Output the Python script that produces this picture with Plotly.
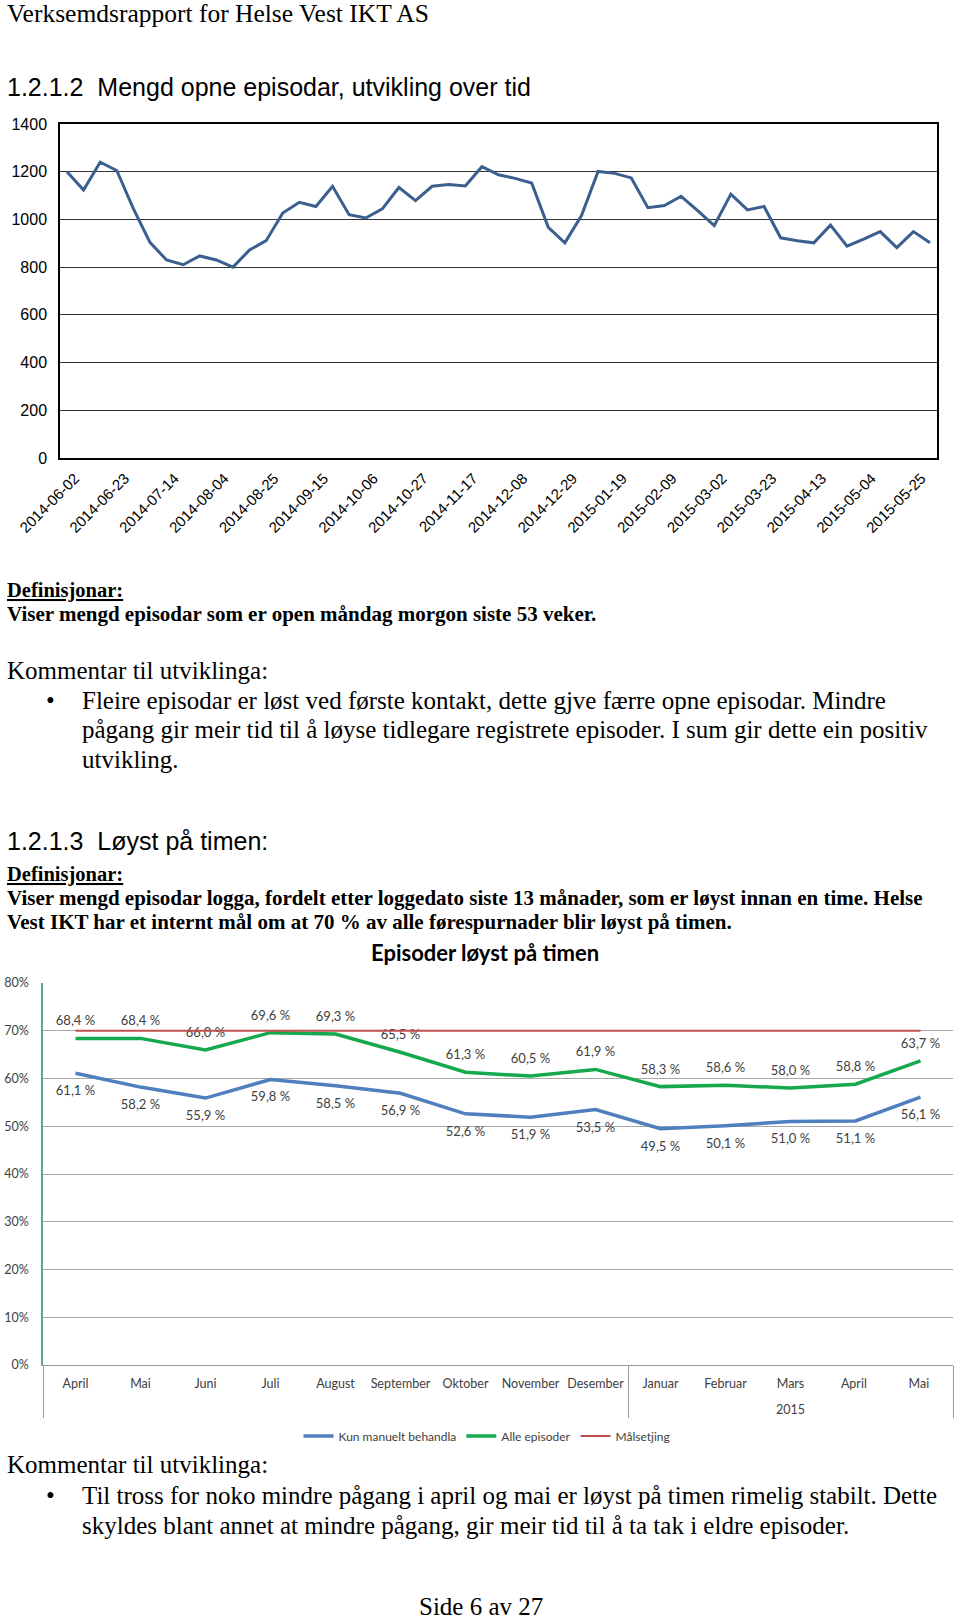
import plotly.graph_objects as go
import pandas as pd

W, H = 960, 1619

# ---------- Chart 1: open episodes per week ----------
weeks = [d.strftime('%Y-%m-%d') for d in pd.date_range('2014-06-02', periods=53, freq='7D')]
open_episodes = [1200, 1123, 1240, 1205, 1045, 904, 830, 810, 847, 830,
                 800, 872, 911, 1027, 1072, 1054, 1139, 1020, 1006, 1044,
                 1134, 1079, 1139, 1146, 1140, 1221, 1187, 1172, 1153, 967,
                 902, 1016, 1201, 1193, 1174, 1049, 1058, 1097, 1037, 974,
                 1106, 1040, 1054, 923, 911, 902, 976, 888, 917, 949,
                 882, 949, 902]
week_ticks = weeks[::3]
y1_ticks = [0, 200, 400, 600, 800, 1000, 1200, 1400]

# ---------- Chart 2: solved within the hour ----------
# leading <br> drops the year label onto its own row, as in the source
years = ["", "", "", "", "", "", "", "", "",
         "<br>2015", "<br>2015", "<br>2015", "<br>2015", "<br>2015"]
# trailing space keeps the 2015 April/Mai distinct from the 2014 ones
months = ["April", "Mai", "Juni", "Juli", "August", "September", "Oktober",
          "November", "Desember", "Januar", "Februar", "Mars", "April ", "Mai "]
manual = [61.1, 58.2, 55.9, 59.8, 58.5, 56.9, 52.6, 51.9, 53.5, 49.5, 50.1, 51.0, 51.1, 56.1]
alle = [68.4, 68.4, 66.0, 69.6, 69.3, 65.5, 61.3, 60.5, 61.9, 58.3, 58.6, 58.0, 58.8, 63.7]
target = [70, 70, 70, 70, 70, 70, 70, 70, 70, 70, 70, 70, 70, 70]
y2_ticks = [0, 10, 20, 30, 40, 50, 60, 70, 80]
y2_labels = ["0%", "10%", "20%", "30%", "40%", "50%", "60%", "70%", "80%"]


def fmt(v):
    return f"{v:.1f} %".replace('.', ',')


def py(y):
    return 1 - y / H


def px(x):
    return x / W


fig = go.Figure()

fig.add_trace(go.Scatter(
    x=weeks, y=open_episodes, mode='lines', xaxis='x', yaxis='y',
    line=dict(color='#3b5f8e', width=3), showlegend=False, hoverinfo='skip'))

xcat = [years, months]
label_font = dict(family='Lato', size=13, color='#404040')
fig.add_trace(go.Scatter(
    x=xcat, y=manual, mode='lines+markers+text', xaxis='x2', yaxis='y2',
    name='Kun manuelt behandla', text=[fmt(v) for v in manual],
    textposition='bottom center', textfont=label_font,
    marker=dict(size=18, color='rgba(0,0,0,0)'),
    line=dict(color='#4f7fbe', width=3.5)))
fig.add_trace(go.Scatter(
    x=xcat, y=alle, mode='lines+markers+text', xaxis='x2', yaxis='y2',
    name='Alle episoder', text=[fmt(v) for v in alle],
    textposition='top center', textfont=label_font,
    marker=dict(size=14, color='rgba(0,0,0,0)'),
    line=dict(color='#16a84c', width=3.5)))
fig.add_trace(go.Scatter(
    x=xcat, y=target, mode='lines', xaxis='x2', yaxis='y2',
    name='Målsetjing', line=dict(color='#c0504d', width=1.8)))

fig.update_layout(
    width=W, height=H, margin=dict(l=0, r=0, t=0, b=0, autoexpand=False),
    paper_bgcolor='white', plot_bgcolor='white',
    xaxis=dict(domain=[px(60), px(937)], anchor='y', type='category',
               range=[-0.42, 52.42], tickmode='array', tickvals=week_ticks,
               ticktext=week_ticks, tickangle=-45, ticks='', automargin=False,
               ticklabelshift=8, ticklabelstandoff=4,
               tickfont=dict(family='Liberation Sans', size=15, color='black'),
               showline=True, linecolor='black', linewidth=1.5, mirror=True,
               showgrid=False, zeroline=False),
    yaxis=dict(domain=[py(458), py(124)], anchor='x', range=[0, 1400],
               tickmode='array', tickvals=y1_ticks, ticks='', automargin=False,
               tickfont=dict(family='Liberation Sans', size=16, color='black'),
               showline=True, linecolor='black', linewidth=1.5, mirror=True,
               showgrid=True, gridcolor='#333333', gridwidth=1,
               zeroline=False, ticklabelstandoff=8),
    xaxis2=dict(domain=[px(43), px(953)], anchor='y2', type='multicategory',
                range=[-0.5, 13.5], ticks='', tickangle=0, automargin=False,
                ticklabelstandoff=7,
                tickfont=dict(family='Lato', size=12.5, color='#404040'),
                showline=True, linecolor='#9a9a9a', showgrid=False,
                showdividers=True, dividercolor='#9a9a9a', dividerwidth=1,
                zeroline=False),
    yaxis2=dict(domain=[py(1365), py(983)], anchor='x2', range=[0, 80],
                tickmode='array', tickvals=y2_ticks, ticktext=y2_labels,
                ticks='', automargin=False,
                tickfont=dict(family='Lato', size=12.5, color='#404040'),
                showline=True, linecolor='#62a592', linewidth=1.5,
                showgrid=True, gridcolor='#a8a8a8', gridwidth=1,
                zeroline=False, ticklabelstandoff=10),
    legend=dict(orientation='h', x=px(487), xanchor='center', y=py(1436),
                yanchor='middle', font=dict(family='Lato', size=12, color='#404040'),
                bgcolor='rgba(0,0,0,0)', itemwidth=30, tracegroupgap=0),
)

anns = []


def ann(text, x, y, size, family='Liberation Serif', bold=False,
        xanchor='left', color='black', underline=False):
    f = dict(family=family, size=size, color=color)
    if bold:
        f['weight'] = 'bold'
    if underline:
        f['lineposition'] = 'under'
    anns.append(dict(text=text, x=px(x), y=py(y), xref='paper', yref='paper',
                     xanchor=xanchor, yanchor='middle', showarrow=False,
                     font=f))


BODY = 25
BOLD = 21
ann('Verksemdsrapport for Helse Vest IKT AS', 5, 13, 25.5)
ann('1.2.1.2  Mengd opne episodar, utvikling over tid', 5, 87, 25, family='Liberation Sans')
ann('Definisjonar:', 5, 590, 20.5, bold=True, underline=True)
ann('Viser mengd episodar som er open måndag morgon siste 53 veker.', 5, 614, BOLD, bold=True)
ann('Kommentar til utviklinga:', 5, 670, BODY)
ann('•', 44, 700, BODY)
ann('Fleire episodar er løst ved første kontakt, dette gjve færre opne episodar. Mindre', 80, 700, BODY)
ann('pågang gir meir tid til å løyse tidlegare registrete episoder. I sum gir dette ein positiv', 80, 729, BODY)
ann('utvikling.', 80, 759, BODY)
ann('1.2.1.3  Løyst på timen:', 5, 841, 25, family='Liberation Sans')
ann('Definisjonar:', 5, 874, 20.5, bold=True, underline=True)
ann('Viser mengd episodar logga, fordelt etter loggedato siste 13 månader, som er løyst innan en time. Helse',
    5, 898, BOLD, bold=True)
ann('Vest IKT har et internt mål om at 70 % av alle førespurnader blir løyst på timen.', 5, 922, BOLD, bold=True)
ann('Episoder løyst på timen', 485, 952, 22, family='Lato', bold=True, xanchor='center')
ann('Kommentar til utviklinga:', 5, 1464, BODY)
ann('•', 44, 1495, BODY)
ann('Til tross for noko mindre pågang i april og mai er løyst på timen rimelig stabilt. Dette', 80, 1495, BODY)
ann('skyldes blant annet at mindre pågang, gir meir tid til å ta tak i eldre episoder.', 80, 1525, BODY)
ann('Side 6 av 27', 481, 1606, BODY, xanchor='center')

fig.update_layout(annotations=anns)

fig.write_html('out.html')
